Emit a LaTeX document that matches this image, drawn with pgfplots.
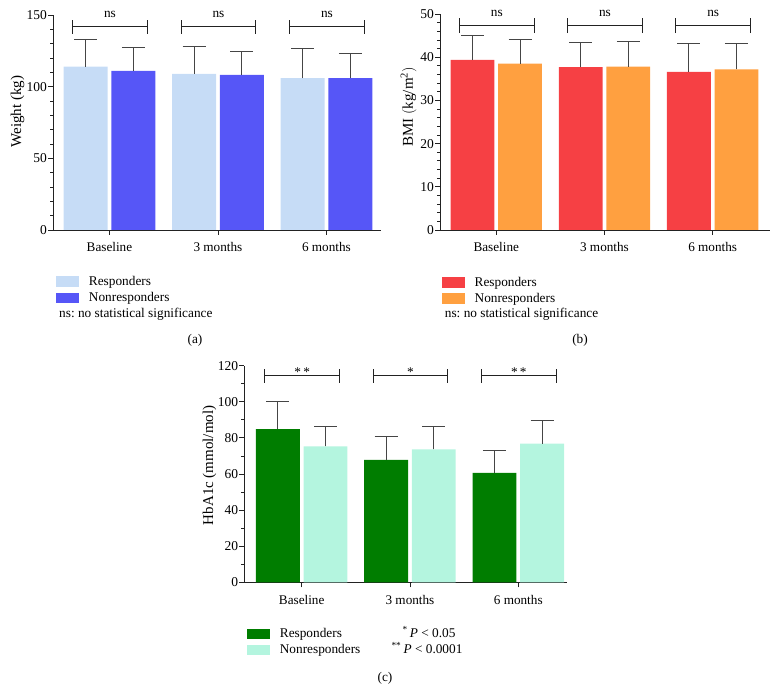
\documentclass[border=0pt,12pt]{standalone}
\usepackage{fontspec}
\setmainfont{Liberation Serif}
\usepackage{pgfplots}
\pgfplotsset{compat=1.18}
\definecolor{aR}{HTML}{C6DCF6}
\definecolor{aN}{HTML}{5656F7}
\definecolor{bR}{HTML}{F64044}
\definecolor{bN}{HTML}{FFA040}
\definecolor{cR}{HTML}{007D00}
\definecolor{cN}{HTML}{B4F5DF}
\definecolor{eg}{HTML}{454545}
\definecolor{ax}{HTML}{222222}
\newcommand{\tf}{\fontsize{13.3}{15}\selectfont}
\frenchspacing
\pgfplotsset{
  panel/.style={
    scale only axis, clip=false,
    axis lines=left, axis line style={ax, line width=0.9pt, -},
    tick align=outside, major tick length=5pt, minor tick length=3pt,
    tick style={ax, line width=0.8pt},
    xtick={0,1,2}, xticklabels={Baseline,3 months,6 months},
    ybar, bar width=0.405,
    ymin=0,
    /pgf/number format/assume math mode=true,
    xticklabel style={font=\fontsize{13.2}{15}\selectfont, yshift=-3.5pt},
    yticklabel style={font=\fontsize{13.5}{15}\selectfont, xshift=3pt},
    legend cell align=left,
    legend style={draw=none, fill=none, inner sep=0pt, outer sep=0pt, anchor=north west,
      font=\tf, row sep=1.2pt},
  },
  bars/.style={fill=#1, draw=none,
    legend image code/.code={\fill[#1] (0pt,-5.25pt) rectangle (23pt,5.25pt); \path (31pt,0pt);},
    error bars/.cd, y dir=plus, y explicit,
    error bar style={eg, line width=0.9pt},
    error mark options={rotate=90, eg, mark size=11.5pt, line width=0.9pt},
    /pgfplots/.cd},
  ylab/.style 2 args={every axis y label/.style={at={(axis description cs:#1,#2)}, rotate=90, anchor=center, font=\fontsize{15}{17}\selectfont}},
}
\begin{document}
\begin{tikzpicture}
\useasboundingbox (0,0) rectangle (776pt,688pt);
% ---------------- (a)
\begin{axis}[panel, at={(53pt,458pt)}, anchor=south west,
  width=327.7pt, height=215pt, xmin=-0.52, xmax=2.5, ymax=150,
  ytick={0,50,100,150}, minor y tick num=4,
  ylabel={Weight (kg)}, ylab={-0.108}{0.55},
  legend style={at={(axis description cs:0.009,-0.205)}}]
\addplot[bar shift=-0.22, bars=aR] coordinates {(0,114) +- (0,18.6) (1,109) +- (0,19.2) (2,106) +- (0,20.6)};
\addplot[bar shift=0.22, bars=aN] coordinates {(0,111.1) +- (0,16.2) (1,108.3) +- (0,16.5) (2,106) +- (0,16.9)};
\legend{Responders, Nonresponders}
\pgfplotsinvokeforeach{0,1,2}{
  \draw[ax, line width=0.9pt] (axis cs:#1-0.34,141.9) -- (axis cs:#1+0.35,141.9);
  \draw[ax, line width=0.9pt] (axis cs:#1-0.34,136.8) -- (axis cs:#1-0.34,146.5);
  \draw[ax, line width=0.9pt] (axis cs:#1+0.35,136.8) -- (axis cs:#1+0.35,146.5);
  \node[font=\tf] at (axis cs:#1+0.005,150.5) {ns};
}
\end{axis}
% ---------------- (b)
\begin{axis}[panel, at={(440pt,458pt)}, anchor=south west,
  width=330pt, height=216pt, xmin=-0.52, xmax=2.53, ymax=50,
  ytick={0,10,20,30,40,50}, minor y tick num=4,
  ylabel={BMI $\bigl($kg/m\textsuperscript{2}$\bigr)$}, ylab={-0.095}{0.57},
  legend style={at={(axis description cs:0.005,-0.208)}}]
\addplot[bar shift=-0.22, bars=bR] coordinates {(0,39.4) +- (0,5.7) (1,37.7) +- (0,5.8) (2,36.6) +- (0,6.5)};
\addplot[bar shift=0.22, bars=bN] coordinates {(0,38.5) +- (0,5.5) (1,37.8) +- (0,5.8) (2,37.2) +- (0,5.9)};
\legend{Responders, Nonresponders}
\pgfplotsinvokeforeach{0,1,2}{
  \draw[ax, line width=0.9pt] (axis cs:#1-0.34,47.4) -- (axis cs:#1+0.35,47.4);
  \draw[ax, line width=0.9pt] (axis cs:#1-0.34,45.6) -- (axis cs:#1-0.34,49.0);
  \draw[ax, line width=0.9pt] (axis cs:#1+0.35,45.6) -- (axis cs:#1+0.35,49.0);
  \node[font=\tf] at (axis cs:#1+0.005,50.2) {ns};
}
\end{axis}
% ---------------- (c)
\begin{axis}[panel, at={(244.3pt,105.7pt)}, anchor=south west,
  width=322.7pt, height=216.6pt, xmin=-0.53, xmax=2.45, ymax=120,
  ytick={0,20,40,60,80,100,120}, minor y tick num=1,
  ylabel={HbA1c (mmol/mol)}, ylab={-0.108}{0.54},
  legend style={at={(axis description cs:0.008,-0.204)}}]
\addplot[bar shift=-0.22, bars=cR] coordinates {(0,84.9) +- (0,15.3) (1,67.8) +- (0,13.1) (2,60.6) +- (0,12.2)};
\addplot[bar shift=0.22, bars=cN] coordinates {(0,75.3) +- (0,11.1) (1,73.7) +- (0,12.7) (2,76.8) +- (0,13.1)};
\legend{Responders, Nonresponders}
\pgfplotsinvokeforeach{0,1,2}{
  \draw[ax, line width=0.9pt] (axis cs:#1-0.34,114.8) -- (axis cs:#1+0.35,114.8);
  \draw[ax, line width=0.9pt] (axis cs:#1-0.34,110.5) -- (axis cs:#1-0.34,118.2);
  \draw[ax, line width=0.9pt] (axis cs:#1+0.35,110.5) -- (axis cs:#1+0.35,118.2);
}
\node[font=\tf] at (axis cs:0.005,116.5) {*\,*};
\node[font=\tf] at (axis cs:1.005,116.5) {*};
\node[font=\tf] at (axis cs:2.005,116.5) {*\,*};
\end{axis}
% ---------------- texts
\node[anchor=west, font=\tf] at (55pt,374pt) {ns: no statistical significance};
\node[anchor=west, font=\tf] at (440.7pt,374pt) {ns: no statistical significance};
\node[font=\tf] at (429pt,56.3pt) {\textsuperscript{*}\,\textit{P} < 0.05};
\node[font=\tf] at (427pt,39.7pt) {\textsuperscript{**}\,\textit{P} < 0.0001};
\node[font=\tf] at (195pt,348pt) {(a)};
\node[font=\tf] at (580pt,348pt) {(b)};
\node[font=\tf] at (385pt,10pt) {(c)};
\end{tikzpicture}
\end{document}
